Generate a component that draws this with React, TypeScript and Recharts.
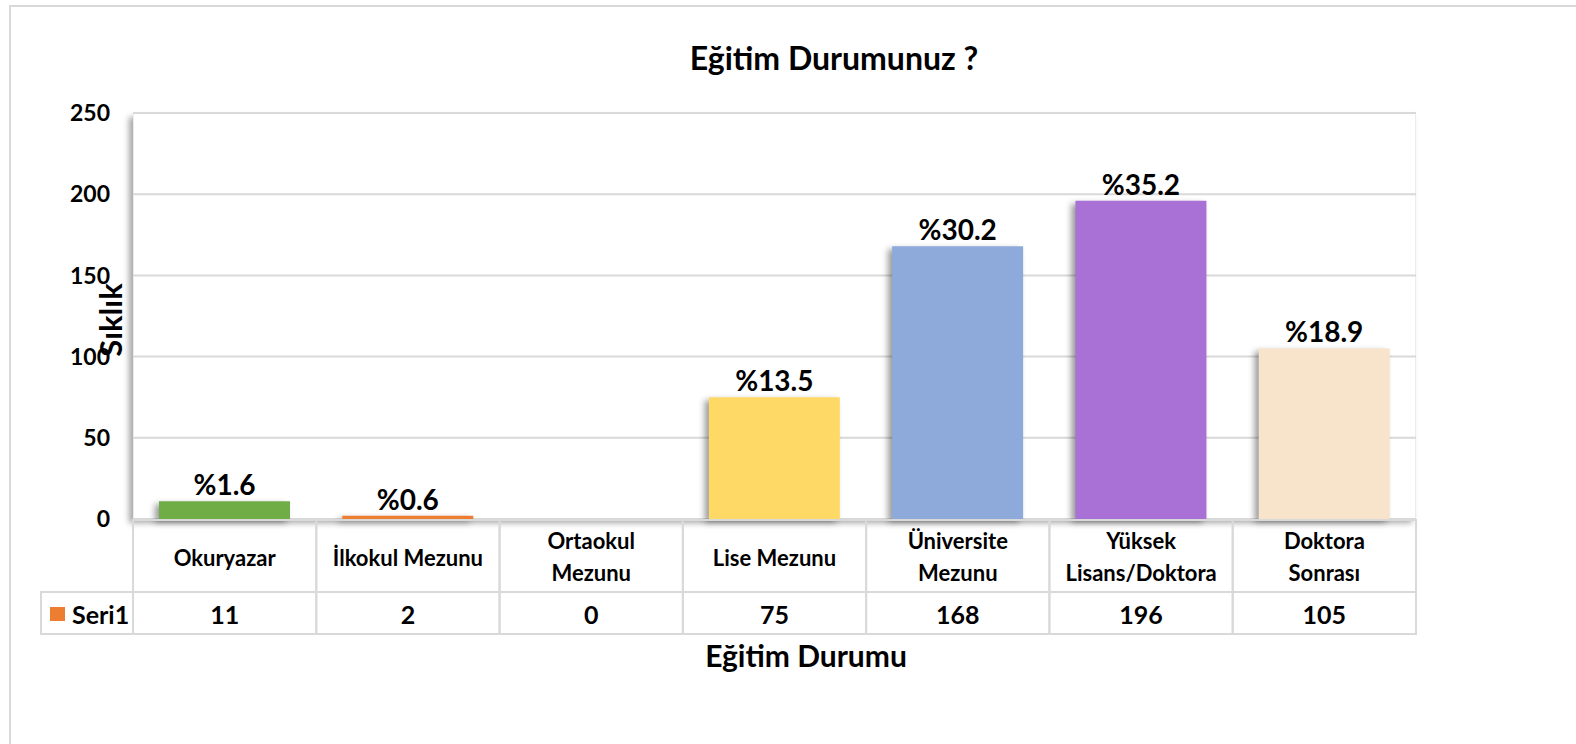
import { BarChart, Bar, XAxis, YAxis, CartesianGrid, Cell, LabelList } from 'recharts'

const categories = [
  'Okuryazar',
  'İlkokul Mezunu',
  'Ortaokul Mezunu',
  'Lise Mezunu',
  'Üniversite Mezunu',
  'Yüksek Lisans/Doktora',
  'Doktora Sonrası',
]
// how each category label wraps inside its table cell
const categoryLines = [
  ['Okuryazar'],
  ['İlkokul Mezunu'],
  ['Ortaokul', 'Mezunu'],
  ['Lise Mezunu'],
  ['Üniversite', 'Mezunu'],
  ['Yüksek', 'Lisans/Doktora'],
  ['Doktora', 'Sonrası'],
]
const counts = [11, 2, 0, 75, 168, 196, 105]
const percents: (number | null)[] = [1.6, 0.6, null, 13.5, 30.2, 35.2, 18.9]
const barColors = ['#70AD47', '#ED7D31', '#A5A5A5', '#FFD966', '#8EAADB', '#A971D6', '#F8E3CB']
const yTicks = [0, 50, 100, 150, 200, 250]
const seriesName = 'Seri1'

const data = categories.map((c, i) => ({
  name: c,
  lines: categoryLines[i],
  value: counts[i],
  pct: percents[i],
}))

const FONT = 'Lato, "Open Sans", sans-serif'
const PLOT_LEFT = 133
const PLOT_RIGHT = 1416
const PLOT_TOP = 113
const PLOT_BOTTOM = 519
const CELL_W = (PLOT_RIGHT - PLOT_LEFT) / categories.length
const GRID = '#D9D9D9'

function TableTick(props: any) {
  const { x, y, index } = props
  const row = data[index]
  const left = x - CELL_W / 2
  const top = y + 1
  const catH = 72
  const valH = 42
  const lines = row.lines
  return (
    <g>
      <rect x={left} y={top} width={CELL_W} height={catH} fill="none" stroke={GRID} strokeWidth={2} />
      <rect x={left} y={top + catH} width={CELL_W} height={valH} fill="none" stroke={GRID} strokeWidth={2} />
      {lines.map((ln: string, k: number) => (
        <text
          key={k}
          x={x}
          y={lines.length === 1 ? top + 37 : top + 20 + k * 32}
          textAnchor="middle"
          dominantBaseline="central"
          fontFamily={FONT}
          fontWeight={700}
          fontSize={22}
          fill="#000"
        >
          {ln}
        </text>
      ))}
      <text
        x={x}
        y={top + catH + 22}
        textAnchor="middle"
        dominantBaseline="central"
        fontFamily={FONT}
        fontWeight={700}
        fontSize={25}
        fill="#000"
      >
        {row.value}
      </text>
      {index === 0 && (
        <g>
          <rect x={41} y={top + catH} width={left - 41} height={valH} fill="none" stroke={GRID} strokeWidth={2} />
          <rect x={50} y={top + catH + 15} width={15} height={14} fill="#ED7D31" />
          <text
            x={72}
            y={top + catH + 22}
            dominantBaseline="central"
            fontFamily={FONT}
            fontWeight={700}
            fontSize={25}
            fill="#000"
          >
            {seriesName}
          </text>
        </g>
      )}
    </g>
  )
}

function PctLabel(props: any) {
  const { x, y, width, value } = props
  if (value === null || value === undefined) return null
  return (
    <text
      x={x + width / 2}
      y={y - 17}
      textAnchor="middle"
      dominantBaseline="central"
      fontFamily={FONT}
      fontWeight={700}
      fontSize={28}
      fill="#000"
    >
      {'%' + value}
    </text>
  )
}

export default function App() {
  return (
    <div style={{ position: 'absolute', left: 0, top: 0, width: 1576, height: 744, overflow: 'hidden', background: '#fff' }}>
      <style>{`.recharts-bar-rectangle path { filter: drop-shadow(-4px 3px 3px rgba(0,0,0,0.4)); }`}</style>
      <div
        style={{
          position: 'absolute',
          left: 9,
          top: 5,
          width: 1700,
          height: 900,
          border: '2px solid #D9D9D9',
        }}
      />
      <div
        style={{
          position: 'absolute',
          left: PLOT_LEFT,
          top: PLOT_TOP,
          width: PLOT_RIGHT - PLOT_LEFT,
          height: PLOT_BOTTOM - PLOT_TOP,
          border: '1px solid #EDEDED',
          boxSizing: 'border-box',
          background: '#fff',
          boxShadow: '-4px 4px 6px rgba(0,0,0,0.35)',
        }}
      />
      <div
        style={{
          position: 'absolute',
          left: 834,
          top: 57,
          transform: 'translate(-50%, -50%)',
          fontFamily: FONT,
          fontWeight: 700,
          fontSize: 32,
          whiteSpace: 'nowrap',
        }}
      >
        Eğitim Durumunuz ?
      </div>
      <div
        style={{
          position: 'absolute',
          left: 806,
          top: 655,
          transform: 'translate(-50%, -50%)',
          fontFamily: FONT,
          fontWeight: 700,
          fontSize: 30,
          whiteSpace: 'nowrap',
        }}
      >
        Eğitim Durumu
      </div>
      <div
        style={{
          position: 'absolute',
          left: 110,
          top: 320,
          transform: 'translate(-50%, -50%) rotate(-90deg)',
          fontFamily: FONT,
          fontWeight: 700,
          fontSize: 31,
          whiteSpace: 'nowrap',
        }}
      >
        Sıklık
      </div>
      <div style={{ position: 'absolute', left: 0, top: 0 }}>
        <BarChart
          width={1576}
          height={744}
          data={data}
          margin={{ top: PLOT_TOP, right: 1576 - PLOT_RIGHT, left: 53, bottom: 744 - PLOT_BOTTOM - 130 }}
        >
          <CartesianGrid vertical={false} stroke={GRID} strokeWidth={2} />
          <XAxis
            dataKey="name"
            axisLine={false}
            tickLine={false}
            tickSize={0}
            tickMargin={0}
            height={130}
            interval={0}
            tick={<TableTick />}
          />
          <YAxis
            width={80}
            domain={[0, 250]}
            ticks={yTicks}
            axisLine={false}
            tickLine={false}
            tickMargin={17}
            tick={{ fontFamily: FONT, fontWeight: 700, fontSize: 23, fill: '#000' }}
          />
          <Bar dataKey="value" barSize={131} isAnimationActive={false}>
            {data.map((d, i) => (
              <Cell key={d.name} fill={barColors[i]} />
            ))}
            <LabelList dataKey="pct" content={<PctLabel />} />
          </Bar>
        </BarChart>
      </div>
    </div>
  )
}
